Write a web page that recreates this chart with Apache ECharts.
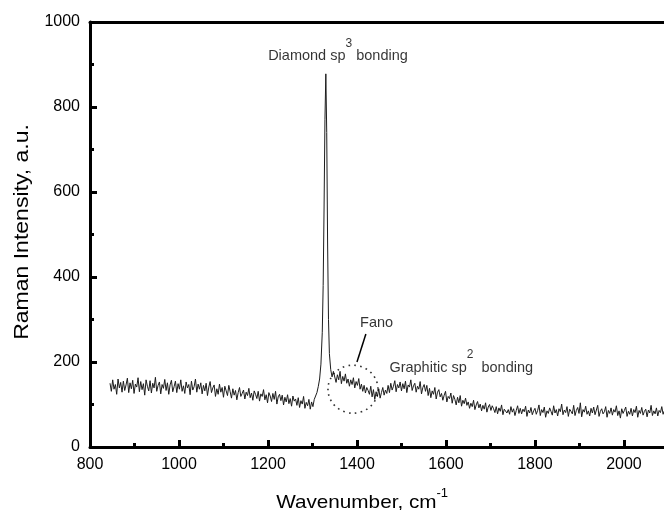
<!DOCTYPE html>
<html><head><meta charset="utf-8">
<script src="https://cdn.jsdelivr.net/npm/echarts@6/dist/echarts.min.js"></script>
<style>html,body{margin:0;padding:0;background:#fff}#c{width:664px;height:510px}</style>
</head><body><div id="c"></div>
<script>
// ---- data ----
const wavenumber = [
  845,848,851,854,857,860,863,866,869,872,
  875,878,881,884,887,890,893,896,899,902,
  905,908,911,914,917,920,923,926,929,932,
  935,938,941,944,947,950,953,956,959,962,
  965,968,971,974,977,980,983,986,989,992,
  995,998,1001,1004,1007,1010,1013,1016,1019,1022,
  1025,1028,1031,1034,1037,1040,1043,1046,1049,1052,
  1055,1058,1061,1064,1067,1070,1073,1076,1079,1082,
  1085,1088,1091,1094,1097,1100,1103,1106,1109,1112,
  1115,1118,1121,1124,1127,1130,1133,1136,1139,1142,
  1145,1148,1151,1154,1157,1160,1163,1166,1169,1172,
  1175,1178,1181,1184,1187,1190,1193,1196,1199,1202,
  1205,1208,1211,1214,1217,1220,1223,1226,1229,1232,
  1235,1238,1241,1244,1247,1250,1253,1256,1259,1262,
  1265,1268,1271,1274,1277,1280,1283,1286,1289,1292,
  1295,1298,1301,1304,
  1307,1310,1313,1316,1319,1322,1324,1326,1328,1330,1332,1334,1336,1338,1341,1344,1347,
  1350,1353,1356,1359,1362,1365,1368,1371,1374,1377,
  1380,1383,1386,1389,1392,1395,1398,1401,1404,1407,
  1410,1413,1416,1419,1422,1425,1428,1431,1434,1437,
  1440,1443,1446,1449,1452,1455,1458,1461,1464,1467,
  1470,1473,1476,1479,1482,1485,1488,1491,1494,1497,
  1500,1503,1506,1509,1512,1515,1518,1521,1524,1527,
  1530,1533,1536,1539,1542,1545,1548,1551,1554,1557,
  1560,1563,1566,1569,1572,1575,1578,1581,1584,1587,
  1590,1593,1596,1599,1602,1605,1608,1611,1614,1617,
  1620,1623,1626,1629,1632,1635,1638,1641,1644,1647,
  1650,1653,1656,1659,1662,1665,1668,1671,1674,1677,
  1680,1683,1686,1689,1692,1695,1698,1701,1704,1707,
  1710,1713,1716,1719,1722,1725,1728,1731,1734,1737,
  1740,1743,1746,1749,1752,1755,1758,1761,1764,1767,
  1770,1773,1776,1779,1782,1785,1788,1791,1794,1797,
  1800,1803,1806,1809,1812,1815,1818,1821,1824,1827,
  1830,1833,1836,1839,1842,1845,1848,1851,1854,1857,
  1860,1863,1866,1869,1872,1875,1878,1881,1884,1887,
  1890,1893,1896,1899,1902,1905,1908,1911,1914,1917,
  1920,1923,1926,1929,1932,1935,1938,1941,1944,1947,
  1950,1953,1956,1959,1962,1965,1968,1971,1974,1977,
  1980,1983,1986,1989,1992,1995,1998,2001,2004,2007,
  2010,2013,2016,2019,2022,2025,2028,2031,2034,2037,
  2040,2043,2046,2049,2052,2055,2058,2061,2064,2067,
  2070,2073,2076,2079,2082,2085,2088,2090
];
const intensity = [
  150,131,158,136,147,124,160,139,152,129,
  155,133,146,162,128,151,137,157,126,148,
  141,163,130,154,135,149,122,158,143,132,
  156,127,150,139,164,131,145,153,125,147,
  138,159,133,151,124,146,157,130,142,155,
  128,149,136,158,131,144,126,153,139,147,
  123,155,134,142,160,129,148,136,151,125,
  145,132,150,121,141,154,128,139,146,119,
  137,124,148,129,140,117,143,132,121,145,
  130,115,137,122,133,111,128,140,119,126,
  134,113,129,121,138,116,127,110,132,124,
  114,131,108,125,119,135,111,123,104,128,
  120,107,126,112,131,101,118,124,109,122,
  99,117,106,123,102,114,96,120,108,113,
  98,116,93,109,101,119,91,105,97,112,
  89,106,95,112,
  116,128,142,160,195,270,380,560,770,878,740,480,300,220,182,165,178,
  175,152,170,158,178,149,166,155,172,150,
  160,143,158,147,163,139,154,145,161,136,
  148,131,145,127,140,133,124,143,118,135,
  112,130,119,137,115,128,140,122,134,126,
  145,128,150,134,143,156,130,147,139,153,
  132,149,137,155,128,146,141,158,133,144,
  150,129,143,136,154,125,140,147,131,145,
  121,138,116,132,124,140,113,129,135,118,
  126,110,122,131,106,119,114,127,103,121,
  112,99,117,104,121,96,110,102,115,98,
  106,91,103,95,110,88,99,107,92,101,
  85,98,89,104,82,94,100,86,97,90,
  81,95,78,92,84,99,76,89,93,80,
  88,77,95,82,90,74,86,97,79,91,
  78,89,83,96,72,87,80,93,76,85,
  91,77,86,99,74,88,81,94,70,85,
  79,92,84,75,97,80,88,73,90,83,
  101,76,87,81,95,72,89,84,78,98,
  74,86,93,79,104,71,88,82,96,77,
  85,73,91,80,94,76,87,98,72,84,
  90,78,83,95,70,86,79,92,75,88,
  82,97,74,85,68,90,79,86,94,72,
  84,77,91,73,88,81,96,70,86,79,
  93,75,84,89,71,87,80,98,74,85,
  78,92,73,86,81,95,77,84
];
const xRange = [800, 2090];
const yRange = [0, 1000];
const xMajorTicks = [800, 1000, 1200, 1400, 1600, 1800, 2000];
const xMinorTicks = [900, 1100, 1300, 1500, 1700, 1900];
const yInterval = 200;

// annotation anchors (data coordinates)
const diamondLabelAt = [1357, 932];
const graphiticLabelAt = [1634, 200];
const fanoLabelAt = [1444, 294];
const fanoCircleAt = [1391, 136];
const fanoArrowFrom = [1420, 266];
const fanoArrowTo = [1400, 200];

const FONT = 'Liberation Sans, Arial, sans-serif';
const points = wavenumber.map((w, i) => [w, intensity[i]]);
const black = '#000';
const supRich = {
  h: {fontSize: 1, lineHeight: 26, fontFamily: FONT},
  n: {fontSize: 14.5, lineHeight: 16, verticalAlign: 'bottom', color: black, fontFamily: FONT},
  s: {fontSize: 12, lineHeight: 13, verticalAlign: 'top', color: black, fontFamily: FONT}
};
const plainNumber = v => String(v);

const chart = echarts.init(document.getElementById('c'), null, {renderer: 'canvas'});
chart.setOption({
  animation: false,
  backgroundColor: '#fff',
  grid: [
    {left: 90, right: 0, top: 22, bottom: 63},
    {left: 90, right: 0, top: 22, bottom: 63}
  ],
  xAxis: [
    {
      type: 'value', gridIndex: 0, min: xRange[0], max: xRange[1], position: 'bottom',
      axisLine: {show: true, onZero: false, lineStyle: {color: black, width: 3}},
      axisTick: {show: true, inside: true, length: 7, customValues: xMajorTicks, lineStyle: {color: black, width: 3}},
      axisLabel: {show: true, customValues: xMajorTicks, formatter: plainNumber, margin: 10, fontSize: 16, color: black, fontFamily: FONT},
      splitLine: {show: false}
    },
    {
      type: 'value', gridIndex: 0, min: xRange[0], max: xRange[1], position: 'top',
      axisLine: {show: true, onZero: false, lineStyle: {color: black, width: 3}},
      axisTick: {show: false}, axisLabel: {show: false}, splitLine: {show: false}
    },
    {
      type: 'value', gridIndex: 1, min: xRange[0], max: xRange[1], position: 'bottom',
      axisLine: {show: false, onZero: false},
      axisTick: {show: true, inside: true, length: 4, customValues: xMinorTicks, lineStyle: {color: black, width: 3}},
      axisLabel: {show: false}, splitLine: {show: false}
    }
  ],
  yAxis: [
    {
      type: 'value', gridIndex: 0, min: yRange[0], max: yRange[1], interval: yInterval, position: 'left',
      axisLine: {show: true, onZero: false, lineStyle: {color: black, width: 3}},
      axisTick: {show: true, inside: true, length: 7, lineStyle: {color: black, width: 3}},
      minorTick: {show: true, splitNumber: 2, length: 4, lineStyle: {color: black, width: 3}},
      axisLabel: {margin: 10, formatter: plainNumber, fontSize: 16, color: black, fontFamily: FONT},
      splitLine: {show: false}, minorSplitLine: {show: false}
    },
    {type: 'value', gridIndex: 1, min: yRange[0], max: yRange[1], show: false}
  ],
  series: [
    {
      type: 'line', xAxisIndex: 0, yAxisIndex: 0, data: points, showSymbol: false, symbol: 'none',
      lineStyle: {color: '#1c1c1c', width: 1}, silent: true, clip: true, z: 3
    },
    {
      type: 'scatter', xAxisIndex: 0, yAxisIndex: 0, silent: true, z: 4,
      data: [fanoCircleAt], symbol: 'circle', symbolSize: [50, 48],
      itemStyle: {color: 'rgba(0,0,0,0)', borderColor: black, borderWidth: 1.6, borderType: [1.6, 4.2]},
      markLine: {
        silent: true, animation: false,
        symbol: ['none', 'arrow'], symbolSize: [0, 10],
        lineStyle: {color: black, width: 1.5, type: 'solid'},
        label: {show: false},
        data: [[{coord: fanoArrowFrom}, {coord: fanoArrowTo}]]
      }
    },
    {
      type: 'scatter', xAxisIndex: 0, yAxisIndex: 0, silent: true, symbolSize: 0, z: 5,
      data: [
        {value: diamondLabelAt, text: '{h| }{n|Diamond sp}{s|3}{n| bonding}'},
        {value: graphiticLabelAt, text: '{h| }{n|Graphitic sp}{s|2}{n|  bonding}'},
        {value: fanoLabelAt, text: '{n|Fano}'}
      ],
      label: {
        show: true, position: 'inside', color: black,
        formatter: p => p.data.text, rich: supRich
      }
    }
  ],
  graphic: [
    {
      type: 'text', x: 362, y: 500, scaleX: 1.09, silent: true,
      style: {
        text: '{h| }{n|Wavenumber, cm}{s|-1}', align: 'center', verticalAlign: 'middle',
        rich: {
          h: {fontSize: 1, lineHeight: 24, fontFamily: FONT},
          n: {fontSize: 19, lineHeight: 22, verticalAlign: 'bottom', fill: black, fontFamily: FONT},
          s: {fontSize: 12, lineHeight: 13, verticalAlign: 'top', fill: black, fontFamily: FONT}
        }
      }
    },
    {
      type: 'text', x: 22.5, y: 232, rotation: Math.PI / 2, scaleX: 1.15, silent: true,
      style: {
        text: 'Raman Intensity, a.u.', align: 'center', verticalAlign: 'middle',
        fontSize: 20, fontFamily: FONT, fill: black
      }
    }
  ]
});
</script>
</body></html>
